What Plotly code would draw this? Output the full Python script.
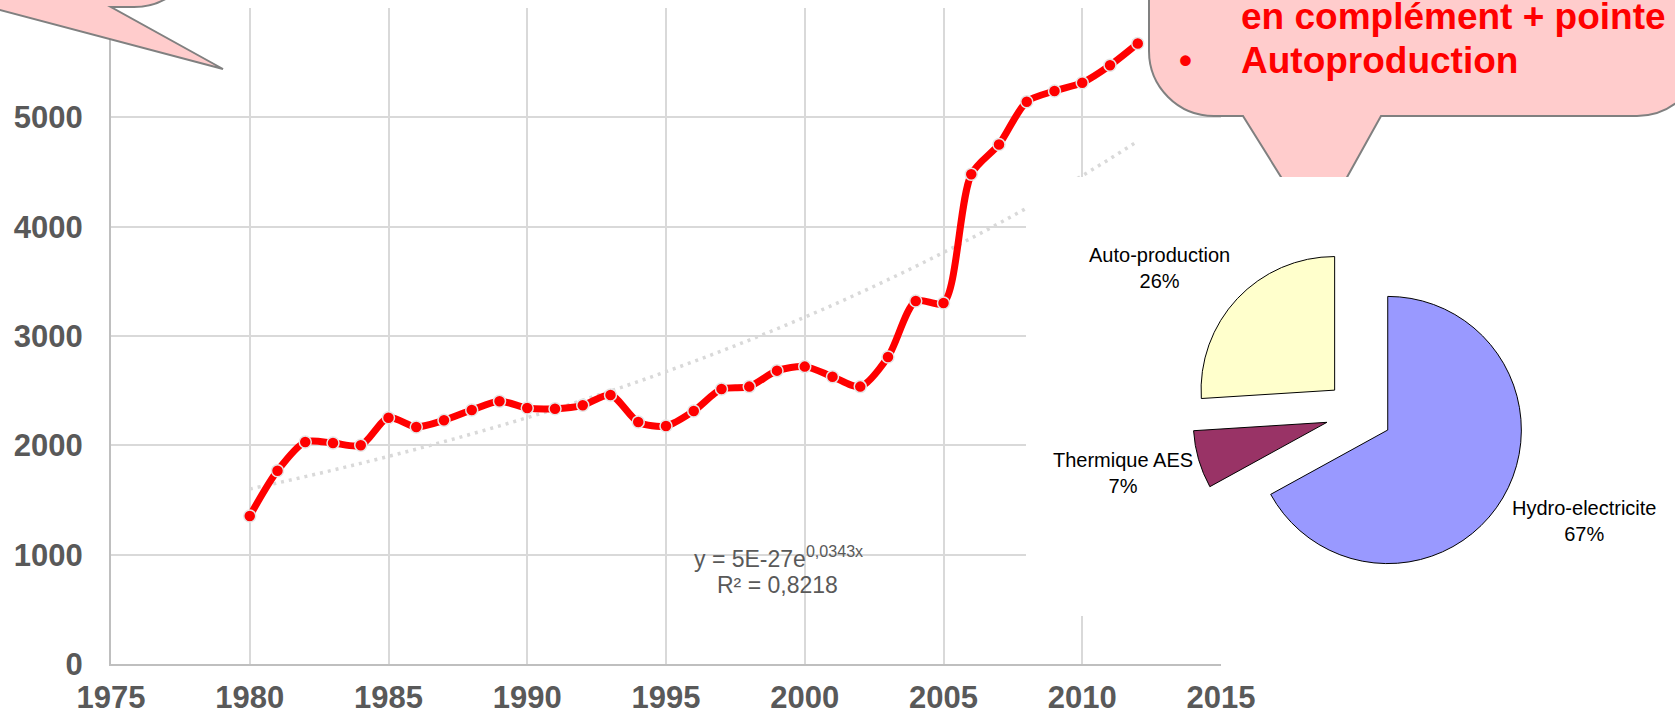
import numpy as np
import plotly.graph_objects as go

# ---------------- data ----------------
years = list(range(1980, 2013))
production_gwh = [1354, 1768, 2031, 2021, 2000, 2253, 2168, 2229, 2323, 2403,
                  2341, 2335, 2366, 2460, 2213, 2177, 2314, 2515, 2537, 2683,
                  2720, 2628, 2537, 2808, 3320, 3302, 4479, 4752, 5143, 5241,
                  5317, 5476, 5676]
x_tick_vals = [1975, 1980, 1985, 1990, 1995, 2000, 2005, 2010, 2015]
y_tick_vals = [0, 1000, 2000, 3000, 4000, 5000, 6000]

mix_labels = ["Hydro-electricite", "Thermique AES", "Auto-production"]
mix_shares = [67, 7, 26]
mix_colors = ["#9999FF", "#993366", "#FFFFCC"]

trend_equation = "y = 5E-27e<sup>0,0343x</sup>"
trend_r2 = "R² = 0,8218"
callout_lines = ["en complément + pointe", "Autoproduction"]

# exponential trend fitted on the series (as the spreadsheet does)
b_fit, ln_a_fit = np.polyfit(np.array(years, float), np.log(production_gwh), 1)
trend_vals = list(np.exp(ln_a_fit + b_fit * np.array(years, float)))

# ---------------- geometry helpers ----------------
W, H = 1675, 716
def px(x):
    return x / W
def py(y):
    return 1 - y / H

FONT = "Arial, Liberation Sans, sans-serif"
GRAY = "#595959"

fig = go.Figure()

fig.add_trace(go.Scatter(
    x=years, y=trend_vals, mode="lines",
    line=dict(color="#D9D9D9", width=3.5, dash="3px,5px", shape="spline"),
    hoverinfo="skip", showlegend=False, xaxis="x", yaxis="y"))

fig.add_trace(go.Scatter(
    x=years, y=production_gwh, mode="lines+markers",
    line=dict(color="#FF0000", width=7, shape="spline", smoothing=0.8),
    marker=dict(size=12, color="#FF0000", line=dict(color="#E6E6E6", width=1.5)),
    showlegend=False, xaxis="x", yaxis="y"))

# overlay pixel-space subplot (for callouts / image background)
fig.add_trace(go.Scatter(x=[], y=[], xaxis="x2", yaxis="y2", showlegend=False,
                         hoverinfo="skip"))

fig.add_trace(go.Pie(
    labels=mix_labels, values=mix_shares, sort=False, direction="clockwise",
    rotation=0, pull=[0.25, 0.25, 0.25], textinfo="none",
    marker=dict(colors=mix_colors, line=dict(color="#000000", width=1)),
    domain=dict(x=[px(1192), px(1526)], y=[py(580), py(246)]),
    showlegend=False))

axis_common = dict(showgrid=True, gridcolor="#D9D9D9", gridwidth=1.5,
                   showline=True, linecolor="#BFBFBF", linewidth=2,
                   zeroline=False, ticks="", automargin=False,
                   tickfont=dict(family=FONT, size=31, color=GRAY, weight="bold"))

fig.update_layout(
    width=W, height=H, autosize=False,
    margin=dict(l=0, r=0, t=0, b=0, autoexpand=False),
    paper_bgcolor="white", plot_bgcolor="rgba(0,0,0,0)",
    xaxis=dict(domain=[px(111), px(1221)], range=[1975, 2015],
               tickvals=x_tick_vals, ticklabelstandoff=5, anchor="y",
               **axis_common),
    yaxis=dict(domain=[py(664), py(8)], range=[0, 6000],
               tickvals=y_tick_vals, ticklabelstandoff=20, anchor="x",
               **axis_common),
    xaxis2=dict(domain=[0, 1], range=[0, W], visible=False, anchor="y2",
                fixedrange=True, automargin=False),
    yaxis2=dict(domain=[0, 1], range=[H, 0], visible=False, anchor="x2",
                fixedrange=True, automargin=False),
    hovermode=False,
)

k = 0.5523
r = 65
# top-right callout (rounded rectangle with pointer)
tr_path = (f"M 1149,-60 L 1149,{116-r} "
           f"C 1149,{116-r+k*r} {1149+r-k*r},116 {1149+r},116 "
           f"L 1243,116 L 1316,233 L 1381,116 L {1702-r},116 "
           f"C {1702-r+k*r},116 1702,{116-r+k*r} 1702,{116-r} L 1702,-60 Z")
# top-left callout
tl_path = (f"M -300,-300 L -300,7 L -11,7 L 223,69 L 111,7 L {199-r},7 "
           f"C {199-r+k*r},7 199,{7-r+k*r} 199,{7-r} L 199,-300 Z")

shapes = [
    dict(type="path", path=tr_path, xref="x2", yref="y2", layer="below",
         fillcolor="#FFCCCC", line=dict(color="#808080", width=2)),
    dict(type="path", path=tl_path, xref="x2", yref="y2", layer="below",
         fillcolor="#FFCCCC", line=dict(color="#808080", width=2)),
    dict(type="rect", x0=1026, x1=1720, y0=177, y1=616, xref="x2", yref="y2",
         layer="below", fillcolor="white", line=dict(width=0)),
]
fig.update_layout(shapes=shapes)

ann = []
# trend equation
ann.append(dict(x=px(778), y=py(557), xref="paper", yref="paper",
                text=trend_equation, showarrow=False, xanchor="center",
                yanchor="middle", font=dict(family=FONT, size=23, color=GRAY)))
ann.append(dict(x=px(777), y=py(585), xref="paper", yref="paper",
                text=trend_r2, showarrow=False, xanchor="center",
                yanchor="middle", font=dict(family=FONT, size=23, color=GRAY)))
# callout text
red_font = dict(family=FONT, size=37, color="#FF0000", weight="bold")
ann.append(dict(x=px(1239), y=py(17), xref="paper", yref="paper",
                text=callout_lines[0], showarrow=False, xanchor="left",
                yanchor="middle", font=red_font))
ann.append(dict(x=px(1239), y=py(61), xref="paper", yref="paper",
                text=callout_lines[1], showarrow=False, xanchor="left",
                yanchor="middle", font=red_font))
ann.append(dict(x=px(1185), y=py(61), xref="paper", yref="paper",
                text="•", showarrow=False, xanchor="center",
                yanchor="middle", font=red_font))
# pie labels
label_pos = {"Auto-production": (1159, 268), "Thermique AES": (1123, 473),
             "Hydro-electricite": (1584, 521)}
for lab, val in zip(mix_labels, mix_shares):
    x0, y0 = label_pos[lab]
    ann.append(dict(x=px(x0), y=py(y0), xref="paper", yref="paper",
                    text=f"{lab}<br>{val}%", showarrow=False,
                    xanchor="center", yanchor="middle", align="center",
                    font=dict(family=FONT, size=20, color="#000000")))
fig.update_layout(annotations=ann)

fig.write_html("out.html", config={"displayModeBar": False},
               post_script="document.body.style.margin='0px';document.body.style.overflow='hidden';")
